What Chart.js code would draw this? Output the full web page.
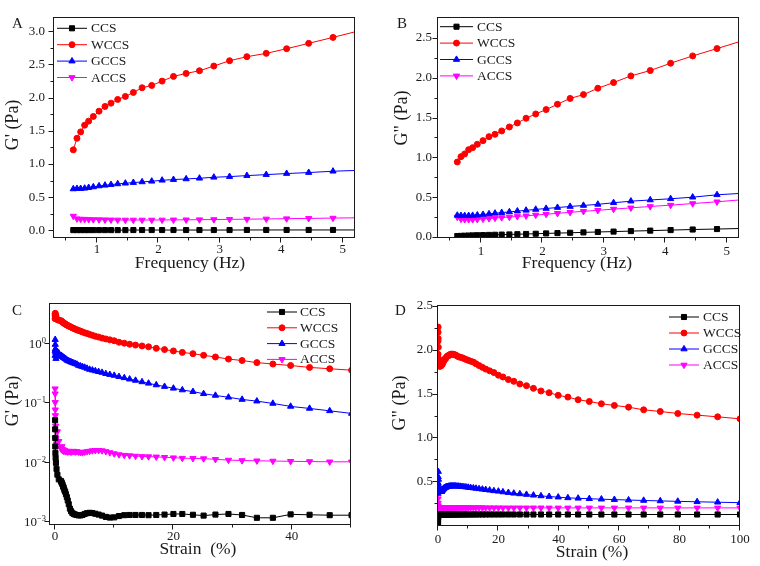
<!DOCTYPE html>
<html><head><meta charset="utf-8">
<script src="https://cdn.jsdelivr.net/npm/chart.js@4/dist/chart.umd.min.js"></script>
<style>
html,body{margin:0;padding:0;background:#fff;}
#wrap{position:relative;width:760px;height:566px;background:#fff;}
#wrap canvas{position:absolute;left:0;top:0;}
</style></head><body>
<div id="wrap">
<canvas id="cA" width="760" height="566"></canvas>
<canvas id="cB" width="760" height="566"></canvas>
<canvas id="cC" width="760" height="566"></canvas>
<canvas id="cD" width="760" height="566"></canvas>
</div>
<script>
// ---------- data ----------
const seriesNames = ['CCS', 'WCCS', 'GCCS', 'ACCS'];

const freqHz = [0.614, 0.674, 0.734, 0.799, 0.864, 0.940, 1.033, 1.130, 1.228, 1.337, 1.462, 1.592, 1.734, 1.891, 2.060, 2.245, 2.451, 2.668, 2.902, 3.158, 3.440, 3.755, 4.087, 4.446, 4.842, 5.28];

// Panel A: G' vs frequency
const gpFreqCCS  = [0.004, 0.004, 0.004, 0.004, 0.004, 0.004, 0.004, 0.004, 0.004, 0.004, 0.004, 0.005, 0.005, 0.005, 0.005, 0.005, 0.005, 0.005, 0.005, 0.005, 0.006, 0.006, 0.006, 0.006, 0.006, 0.006];
const gpFreqWCCS = [1.213, 1.388, 1.484, 1.585, 1.646, 1.716, 1.796, 1.867, 1.917, 1.973, 2.018, 2.078, 2.149, 2.184, 2.249, 2.320, 2.365, 2.405, 2.476, 2.556, 2.617, 2.667, 2.737, 2.818, 2.908, 3.01];
const gpFreqGCCS = [0.624, 0.629, 0.629, 0.634, 0.644, 0.654, 0.669, 0.679, 0.689, 0.700, 0.710, 0.720, 0.730, 0.740, 0.755, 0.765, 0.775, 0.785, 0.800, 0.810, 0.825, 0.840, 0.856, 0.871, 0.891, 0.905];
const gpFreqACCS = [0.215, 0.175, 0.170, 0.168, 0.165, 0.163, 0.162, 0.160, 0.158, 0.157, 0.156, 0.156, 0.156, 0.156, 0.157, 0.158, 0.159, 0.161, 0.163, 0.166, 0.169, 0.172, 0.176, 0.180, 0.185, 0.19];

// Panel B: G'' vs frequency
const gppFreqCCS  = [0.012, 0.014, 0.016, 0.018, 0.020, 0.022, 0.024, 0.026, 0.028, 0.030, 0.032, 0.035, 0.038, 0.041, 0.045, 0.049, 0.053, 0.058, 0.063, 0.068, 0.074, 0.080, 0.087, 0.094, 0.100, 0.108];
const gppFreqWCCS = [0.942, 1.009, 1.043, 1.097, 1.122, 1.164, 1.210, 1.260, 1.290, 1.332, 1.382, 1.432, 1.491, 1.545, 1.600, 1.667, 1.740, 1.788, 1.868, 1.939, 2.023, 2.090, 2.182, 2.274, 2.366, 2.47];
const gppFreqGCCS = [0.272, 0.268, 0.267, 0.268, 0.270, 0.275, 0.282, 0.290, 0.298, 0.306, 0.315, 0.325, 0.335, 0.346, 0.358, 0.370, 0.383, 0.396, 0.410, 0.430, 0.450, 0.465, 0.480, 0.500, 0.530, 0.550];
const gppFreqACCS = [0.250, 0.225, 0.220, 0.220, 0.220, 0.222, 0.226, 0.232, 0.238, 0.244, 0.250, 0.258, 0.266, 0.276, 0.286, 0.297, 0.310, 0.322, 0.335, 0.350, 0.366, 0.383, 0.400, 0.420, 0.442, 0.470];

const strainPct = [0.01, 0.0158, 0.0251, 0.0398, 0.0631, 0.1, 0.158, 0.251, 0.398, 0.631,
  1.0, 1.08, 1.17, 1.26, 1.36, 1.47, 1.58, 1.71, 1.85, 2.0,
  2.15, 2.32, 2.51, 2.71, 2.93, 3.16, 3.41, 3.69, 3.98, 4.3,
  4.64, 5.01, 5.41, 5.84, 6.31, 6.81, 7.36, 7.94, 8.58, 9.26,
  10.0, 10.8, 11.7, 12.6, 13.6, 14.7, 15.8, 17.1, 18.5, 20.0,
  21.5, 23.3, 25.1, 27.1, 29.3, 31.6, 34.1, 36.8, 39.8, 43.0,
  46.4, 50.1, 54.1, 58.4, 63.1, 68.1, 73.6, 79.4, 85.8, 92.6, 100];

// Panel C: G' vs strain (log axis)
const gpStrainCCS = [0.05, 0.035, 0.025, 0.018, 0.014, 0.0115, 0.0095, 0.0075, 0.006, 0.005,
  0.0047, 0.0045, 0.0043, 0.0041, 0.0038, 0.0036, 0.0033, 0.0031, 0.0028, 0.0025,
  0.0022, 0.0019, 0.0016, 0.00145, 0.00135, 0.0013, 0.00127, 0.00125, 0.00123, 0.00123,
  0.00125, 0.0013, 0.00134, 0.00136, 0.00135, 0.00131, 0.00127, 0.00122, 0.00116, 0.00113,
  0.00114, 0.0012, 0.00124, 0.00125, 0.00125, 0.00125, 0.00124, 0.00125, 0.00127, 0.0013,
  0.0013, 0.00126, 0.00122, 0.00127, 0.0013, 0.00125, 0.00112, 0.00112, 0.00128, 0.00126,
  0.00124, 0.00124, 0.00124, 0.00124, 0.00124, 0.00124, 0.00124, 0.00124, 0.00124, 0.00124, 0.00124];
const gpStrainWCCS = [2.6, 3.1, 2.9, 3.2, 2.8, 2.7, 2.9, 2.6, 2.5, 2.45,
  2.40, 2.36, 2.32, 2.28, 2.24, 2.20, 2.16, 2.12, 2.07, 2.03,
  1.99, 1.95, 1.91, 1.87, 1.82, 1.78, 1.73, 1.69, 1.64, 1.60,
  1.55, 1.50, 1.46, 1.41, 1.36, 1.31, 1.27, 1.22, 1.18, 1.14,
  1.10, 1.04, 1.00, 0.96, 0.93, 0.90, 0.87, 0.82, 0.78, 0.74,
  0.70, 0.665, 0.625, 0.585, 0.54, 0.51, 0.47, 0.445, 0.42, 0.39,
  0.37, 0.35, 0.33, 0.31, 0.29, 0.275, 0.26, 0.245, 0.23, 0.215, 0.2];
const gpStrainGCCS = [0.62, 0.75, 1.15, 0.95, 0.8, 0.7, 0.55, 0.6, 0.72, 0.68,
  0.62, 0.61, 0.60, 0.59, 0.58, 0.57, 0.56, 0.55, 0.535, 0.52,
  0.51, 0.50, 0.49, 0.48, 0.47, 0.46, 0.45, 0.44, 0.42, 0.41,
  0.40, 0.39, 0.375, 0.36, 0.35, 0.34, 0.33, 0.32, 0.305, 0.295,
  0.285, 0.272, 0.26, 0.247, 0.235, 0.222, 0.21, 0.197, 0.185, 0.173,
  0.162, 0.152, 0.140, 0.131, 0.122, 0.112, 0.105, 0.096, 0.0855, 0.079,
  0.072, 0.065, 0.059, 0.054, 0.049, 0.045, 0.041, 0.038, 0.035, 0.032, 0.029];
const gpStrainACCS = [0.17, 0.14, 0.1, 0.075, 0.06, 0.04, 0.025, 0.02, 0.032, 0.022,
  0.017, 0.016, 0.018, 0.0155, 0.016, 0.015, 0.0155, 0.015, 0.0148, 0.015,
  0.0146, 0.015, 0.0148, 0.0145, 0.0148, 0.015, 0.0146, 0.0148, 0.0145, 0.0143,
  0.0142, 0.0145, 0.0148, 0.015, 0.0153, 0.0155, 0.0155, 0.0153, 0.0148, 0.0142,
  0.0136, 0.0131, 0.0128, 0.0126, 0.0124, 0.0122, 0.0121, 0.012, 0.0118, 0.0116,
  0.0114, 0.0113, 0.0112, 0.0109, 0.0106, 0.0104, 0.0103, 0.0102, 0.0101, 0.01,
  0.0099, 0.0099, 0.0098, 0.0098, 0.0097, 0.0097, 0.0096, 0.0096, 0.0095, 0.0095, 0.0094];

// Panel D: G'' vs strain
const gppStrainCCS = [0.01, 0.04, 0.07, 0.09, 0.1, 0.108, 0.112, 0.115, 0.117, 0.118,
  0.118, 0.118, 0.119, 0.119, 0.119, 0.119, 0.119, 0.119, 0.12, 0.12,
  0.12, 0.12, 0.12, 0.12, 0.12, 0.12, 0.12, 0.12, 0.12, 0.12,
  0.12, 0.12, 0.12, 0.12, 0.12, 0.12, 0.12, 0.12, 0.12, 0.12,
  0.12, 0.12, 0.12, 0.12, 0.12, 0.12, 0.12, 0.12, 0.12, 0.12,
  0.12, 0.12, 0.12, 0.12, 0.12, 0.12, 0.12, 0.12, 0.12, 0.12,
  0.12, 0.12, 0.12, 0.12, 0.12, 0.12, 0.12, 0.12, 0.12, 0.12, 0.12];
const gppStrainWCCS = [1.95, 2.1, 2.2, 2.26, 2.13, 2.03, 1.9, 1.85, 1.82, 1.81,
  1.82, 1.82, 1.83, 1.83, 1.84, 1.84, 1.85, 1.86, 1.87, 1.88,
  1.89, 1.895, 1.90, 1.91, 1.92, 1.93, 1.93, 1.94, 1.945, 1.95,
  1.95, 1.95, 1.945, 1.94, 1.93, 1.92, 1.915, 1.91, 1.90, 1.89,
  1.88, 1.87, 1.86, 1.84, 1.82, 1.80, 1.78, 1.76, 1.74, 1.71,
  1.69, 1.66, 1.64, 1.61, 1.59, 1.56, 1.53, 1.51, 1.48, 1.46,
  1.43, 1.41, 1.384, 1.365, 1.345, 1.315, 1.296, 1.273, 1.254, 1.235, 1.212];
const gppStrainGCCS = [0.36, 0.39, 0.43, 0.48, 0.55, 0.61, 0.52, 0.45, 0.40, 0.385,
  0.38, 0.38, 0.385, 0.39, 0.395, 0.40, 0.405, 0.41, 0.415, 0.42,
  0.423, 0.427, 0.43, 0.432, 0.435, 0.438, 0.44, 0.441, 0.443, 0.444,
  0.445, 0.445, 0.445, 0.444, 0.443, 0.442, 0.44, 0.438, 0.436, 0.433,
  0.43, 0.426, 0.422, 0.418, 0.413, 0.408, 0.403, 0.397, 0.39, 0.385,
  0.377, 0.37, 0.362, 0.355, 0.348, 0.34, 0.332, 0.325, 0.318, 0.31,
  0.305, 0.30, 0.295, 0.29, 0.285, 0.28, 0.275, 0.27, 0.265, 0.26, 0.255];
const gppStrainACCS = [0.15, 0.25, 0.38, 0.3, 0.22, 0.19, 0.2, 0.2, 0.2, 0.2,
  0.2, 0.2, 0.2, 0.2, 0.2, 0.2, 0.2, 0.2, 0.2, 0.2,
  0.2, 0.2, 0.2, 0.2, 0.2, 0.2, 0.2, 0.2, 0.2, 0.2,
  0.2, 0.2, 0.2, 0.2, 0.2, 0.2, 0.2, 0.2, 0.2, 0.199,
  0.199, 0.199, 0.198, 0.198, 0.198, 0.198, 0.197, 0.197, 0.197, 0.197,
  0.196, 0.196, 0.196, 0.196, 0.196, 0.196, 0.196, 0.195, 0.195, 0.195,
  0.195, 0.195, 0.195, 0.195, 0.195, 0.195, 0.195, 0.195, 0.195, 0.195, 0.195];

// tick labels
const freqTicks = [1, 2, 3, 4, 5];
const freqMinor = [0.5, 1.5, 2.5, 3.5, 4.5];
const aYTicks = [0, 0.5, 1, 1.5, 2, 2.5, 3];
const aYMinor = [0.25, 0.75, 1.25, 1.75, 2.25, 2.75];
const bYTicks = [0, 0.5, 1, 1.5, 2, 2.5];
const bYMinor = [0.25, 0.75, 1.25, 1.75, 2.25];
const cXTicks = [0, 20, 40];
const cXMinor = [10, 30, 50];
const cYTicks = [0.001, 0.01, 0.1, 1];
const dXTicks = [0, 20, 40, 60, 80, 100];
const dXMinor = [10, 30, 50, 70, 90];
const dYTicks = [0.5, 1, 1.5, 2, 2.5];
const dYMinor = [0.25, 0.75, 1.25, 1.75, 2.25];

// ---------- styling ----------
const COLORS = ['#000000', '#ff0000', '#0000ff', '#ff00ff'];
const MARK = [
  {pointStyle: 'rect', rotation: 0, radius: 3.6},
  {pointStyle: 'circle', rotation: 0, radius: 3},
  {pointStyle: 'triangle', rotation: 0, radius: 3.6},
  {pointStyle: 'triangle', rotation: 180, radius: 3.6}
];
const SERIF = '"Liberation Serif", "Times New Roman", serif';
const INK = '#1a1a1a';
const X_AXIS_H = 25;
const TICK_FONT = 13;

const panelPlugin = {
  id: 'panel',
  afterDraw(chart, args, o) {
    const ctx = chart.ctx, a = chart.chartArea;
    const xs = chart.scales.x, ys = chart.scales.y;
    ctx.save();
    ctx.strokeStyle = INK; ctx.lineWidth = 1;
    const L = Math.round(a.left) - 0.5, R = Math.round(a.right) - 0.5;
    const T = Math.round(a.top) - 0.5, B = Math.round(a.bottom) + 0.5;
    ctx.strokeRect(L, T, R - L, B - T);
    ctx.beginPath();
    const xt = (v, len) => { const p = Math.round(xs.getPixelForValue(v)) - 0.5; ctx.moveTo(p, B); ctx.lineTo(p, B + len); };
    const yt = (v, len) => { const p = Math.round(ys.getPixelForValue(v)) + 0.5; ctx.moveTo(L, p); ctx.lineTo(L - len, p); };
    o.xMajor.forEach(v => xt(v, 5));
    (o.xMinor || []).forEach(v => xt(v, 3));
    o.yMajor.forEach(v => yt(v, 5));
    (o.yMinor || []).forEach(v => yt(v, 3));
    ctx.stroke();

    ctx.fillStyle = INK;
    if (o.logLabels) {
      o.yMajor.forEach(v => {
        const p = ys.getPixelForValue(v);
        const ex = String(Math.round(Math.log10(v))).replace('-', '\u2212');
        ctx.font = TICK_FONT + 'px ' + SERIF;
        const w1 = ctx.measureText('10').width;
        ctx.font = '8.5px ' + SERIF;
        const w2 = ctx.measureText(ex).width;
        const x0 = o.logLabelRight - w1 - w2;
        ctx.textAlign = 'left'; ctx.textBaseline = 'alphabetic';
        ctx.font = TICK_FONT + 'px ' + SERIF;
        ctx.fillText('10', x0, p + 5);
        ctx.font = '8.5px ' + SERIF;
        ctx.fillText(ex, x0 + w1, p);
      });
    }
    ctx.font = '15px ' + SERIF;
    ctx.textAlign = 'left'; ctx.textBaseline = 'top';
    ctx.fillText(o.letter, o.letterX, o.letterY);
    ctx.font = '17.5px ' + SERIF;
    ctx.textAlign = 'center'; ctx.textBaseline = 'middle';
    ctx.fillText(o.xTitle, o.xTitleX, o.xTitleY);
    ctx.save();
    ctx.translate(o.yTitleX, o.yTitleY);
    ctx.rotate(-Math.PI / 2);
    ctx.font = '18px ' + SERIF;
    ctx.fillText(o.yTitle, 0, 0);
    ctx.restore();
    ctx.font = '13.5px ' + SERIF;
    ctx.textAlign = 'left'; ctx.textBaseline = 'middle';
    seriesNames.forEach((name, i) => {
      const y = o.legY0 + i * o.legDy;
      ctx.strokeStyle = COLORS[i]; ctx.lineWidth = 1;
      ctx.beginPath(); ctx.moveTo(o.legX0, y); ctx.lineTo(o.legX1, y); ctx.stroke();
      ctx.fillStyle = COLORS[i];
      Chart.helpers.drawPoint(ctx, {pointStyle: MARK[i].pointStyle, rotation: MARK[i].rotation, radius: MARK[i].radius, borderWidth: 1}, (o.legX0 + o.legX1) / 2, y);
      ctx.fillStyle = INK;
      ctx.fillText(name, o.legTextX, y + 0.5);
    });
    ctx.restore();
  }
};

function fmt1(v) { return v.toFixed(1); }
function fmt0(v) { return String(v); }

function makePanel(id, p) {
  const datasets = p.series.map((s, i) => ({
    label: seriesNames[i],
    data: p.x.map((xv, j) => ({x: xv, y: s[j]})),
    borderColor: COLORS[i],
    backgroundColor: COLORS[i],
    pointBackgroundColor: COLORS[i],
    pointBorderColor: COLORS[i],
    borderWidth: 1,
    pointBorderWidth: 1,
    pointStyle: MARK[i].pointStyle,
    pointRotation: MARK[i].rotation,
    pointRadius: MARK[i].radius,
    tension: 0,
    clip: 0
  }));
  const a = p.area;
  return new Chart(document.getElementById(id), {
    type: 'line',
    data: {datasets},
    options: {
      responsive: false,
      animation: false,
      devicePixelRatio: 1,
      events: [],
      layout: {padding: {left: 0, top: a.top, right: 760 - a.right, bottom: 566 - a.bottom - X_AXIS_H}},
      plugins: {legend: {display: false}, tooltip: {enabled: false}, panel: p.deco},
      scales: {
        x: {
          type: 'linear', position: 'bottom', min: p.xMin, max: p.xMax,
          afterFit: s => { s.height = X_AXIS_H; },
          afterBuildTicks: s => { s.ticks = p.xTicks.map(v => ({value: v})); },
          grid: {display: false, drawTicks: true, tickLength: 5},
          border: {display: false},
          ticks: {font: {family: SERIF, size: TICK_FONT}, color: INK, padding: p.xPad, maxRotation: 0, autoSkip: false, callback: fmt0}
        },
        y: {
          type: p.yType, position: 'left', min: p.yMin, max: p.yMax,
          afterFit: s => { s.width = a.left; },
          afterBuildTicks: s => { s.ticks = p.yTicks.map(v => ({value: v})); },
          grid: {display: false, drawTicks: true, tickLength: 5},
          border: {display: false},
          ticks: {display: p.yLabels, font: {family: SERIF, size: TICK_FONT}, color: INK, padding: p.yPad, autoSkip: false, callback: fmt1}
        }
      }
    },
    plugins: [panelPlugin]
  });
}

makePanel('cA', {
  x: freqHz, series: [gpFreqCCS, gpFreqWCCS, gpFreqGCCS, gpFreqACCS],
  area: {left: 54, top: 18, right: 355, bottom: 237},
  xMin: 0.3, xMax: 5.2, yMin: -0.1, yMax: 3.2, yType: 'linear',
  xTicks: freqTicks, yTicks: aYTicks, xPad: 0, yPad: 4, yLabels: true,
  deco: {xMajor: freqTicks, xMinor: freqMinor, yMajor: aYTicks, yMinor: aYMinor,
    letter: 'A', letterX: 12, letterY: 17, xTitle: 'Frequency (Hz)', xTitleX: 190, xTitleY: 263,
    yTitle: "G' (Pa)", yTitleX: 13, yTitleY: 125,
    legX0: 57, legX1: 87, legTextX: 91, legY0: 28.3, legDy: 16.4}
});
makePanel('cB', {
  x: freqHz, series: [gppFreqCCS, gppFreqWCCS, gppFreqGCCS, gppFreqACCS],
  area: {left: 438, top: 18, right: 739, bottom: 237},
  xMin: 0.3, xMax: 5.2, yMin: 0, yMax: 2.75, yType: 'linear',
  xTicks: freqTicks, yTicks: bYTicks, xPad: 1.5, yPad: 1, yLabels: true,
  deco: {xMajor: freqTicks, xMinor: freqMinor, yMajor: bYTicks, yMinor: bYMinor,
    letter: 'B', letterX: 397, letterY: 17, xTitle: 'Frequency (Hz)', xTitleX: 577, xTitleY: 263,
    yTitle: 'G" (Pa)', yTitleX: 402, yTitleY: 118,
    legX0: 440, legX1: 473, legTextX: 477, legY0: 26.7, legDy: 16.4}
});
makePanel('cC', {
  x: strainPct, series: [gpStrainCCS, gpStrainWCCS, gpStrainGCCS, gpStrainACCS],
  area: {left: 50, top: 304, right: 351, bottom: 524},
  xMin: -0.85, xMax: 50, yMin: 0.00088, yMax: 4.6, yType: 'logarithmic',
  xTicks: cXTicks, yTicks: cYTicks, xPad: 0, yPad: 4, yLabels: false,
  deco: {xMajor: cXTicks, xMinor: cXMinor, yMajor: cYTicks, yMinor: [],
    logLabels: true, logLabelRight: 46,
    letter: 'C', letterX: 12, letterY: 304, xTitle: 'Strain  (%)', xTitleX: 198, xTitleY: 549,
    yTitle: "G' (Pa)", yTitleX: 13, yTitleY: 401,
    legX0: 267, legX1: 297, legTextX: 300, legY0: 312, legDy: 15.8}
});
makePanel('cD', {
  x: strainPct, series: [gppStrainCCS, gppStrainWCCS, gppStrainGCCS, gppStrainACCS],
  area: {left: 438, top: 306, right: 740, bottom: 525},
  xMin: 0, xMax: 100, yMin: 0, yMax: 2.5, yType: 'linear',
  xTicks: dXTicks, yTicks: dYTicks, xPad: 1.5, yPad: 0, yLabels: true,
  deco: {xMajor: dXTicks, xMinor: dXMinor, yMajor: dYTicks, yMinor: dYMinor,
    letter: 'D', letterX: 395, letterY: 304, xTitle: 'Strain (%)', xTitleX: 592, xTitleY: 552,
    yTitle: 'G" (Pa)', yTitleX: 400, yTitleY: 403,
    legX0: 669, legX1: 699, legTextX: 703, legY0: 317, legDy: 16}
});
</script>
</body></html>
